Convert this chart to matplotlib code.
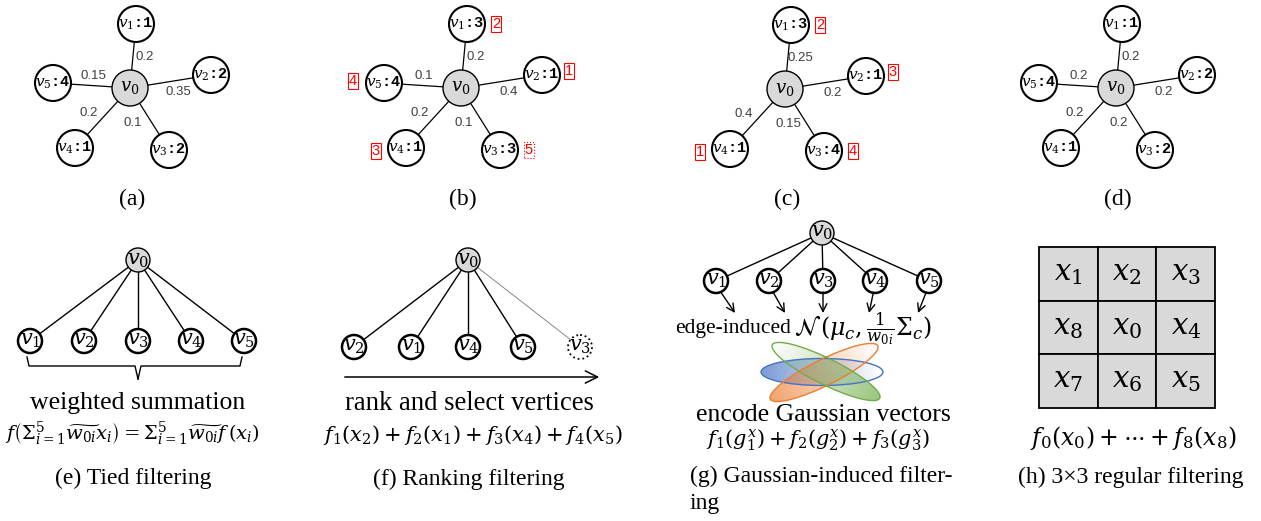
import numpy as np
import matplotlib.pyplot as plt
from matplotlib.patches import Circle, Ellipse, Rectangle

plt.rcParams["font.family"] = ["Liberation Serif", "DejaVu Serif"]
plt.rcParams["mathtext.fontset"] = "stix"

# ---- data -------------------------------------------------------------
# top row: value of each neighbour v1..v5, edge weights, rank boxes
star_vals = [[1, 2, 2, 1, 4], [3, 1, 3, 1, 4], [3, 1, 4, 1, None], [1, 2, 2, 1, 4]]
star_w = [["0.2", "0.35", "0.1", "0.2", "0.15"],
          ["0.2", "0.4", "0.1", "0.2", "0.1"],
          ["0.25", "0.2", "0.15", "0.4", None],
          ["0.2", "0.2", "0.2", "0.2", "0.2"]]
star_rank = [None, [2, 1, 5, 3, 4], [2, 3, 4, 1, None], None]
star_caps = ["(a)", "(b)", "(c)", "(d)"]

# bottom row
tied_kids = [1, 2, 3, 4, 5]
rank_kids = [2, 1, 4, 5, 3]
rank_dropped = 3
gauss_kids = [1, 2, 3, 4, 5]
grid_labels = [[1, 2, 3], [8, 0, 4], [7, 6, 5]]

# ---- layout (pixels) --------------------------------------------------
star_centers = [(130, 88), (461, 88), (785, 89), (1116, 88)]
nb_off = [(6, -64), (81, -13), (39, 62), (-55, 60), (-77, -5)]
w_off = [(15, -31), (48, 4), (3, 35), (-41, 25), (-37, -12)]
rank_off = [(29, 0), (27, -4), (29, 0), (-30, 3), (-31, -2)]
GRAY = "#d9d9d9"
MF = "dejavuserif"  # wider math font, closer to Cambria Math
CAP = 17
BODY = 18.5

fig = plt.figure(figsize=(12.61, 5.21), dpi=100)
ax = fig.add_axes([0, 0, 1, 1])
ax.axis("off")


def node(x, y, r, label, fs, fill="white", lw=1.5, ls="-", **kw):
    ax.add_patch(Circle((x, y), r, fc=fill, ec="black", lw=lw, ls=ls, zorder=3))
    ax.text(x, y, label, fontsize=fs, ha="center", va="center", zorder=4,
            math_fontfamily=MF, **kw)


# top row: star graphs
for k, (cx, cy) in enumerate(star_centers):
    for i, v in enumerate(star_vals[k]):
        if v is None:
            continue
        nx, ny = cx + nb_off[i][0], cy + nb_off[i][1]
        ax.plot([cx, nx], [cy, ny], color="black", lw=0.9, zorder=1)
        node(nx, ny, 18, f"$v_{i + 1}$:{v}", 11, family="Liberation Mono",
             fontweight="bold")
        ax.text(cx + w_off[i][0], cy + w_off[i][1], star_w[k][i], fontsize=9.5,
                color="#404040", family="Liberation Sans", ha="center", va="center")
        if star_rank[k] is not None:
            r = star_rank[k][i]
            ax.text(nx + rank_off[i][0], ny + rank_off[i][1], str(r), color="red",
                    fontsize=10.5, family="Liberation Sans", ha="center",
                    va="center",
                    bbox=dict(boxstyle="square,pad=0.08", fc="white", ec="red",
                              lw=0.8, ls=":" if r == 5 else "-"))
    node(cx, cy, 18, "$v_0$", 13, fill=GRAY, lw=1.0)
    ax.text(cx + 2, 199, star_caps[k], fontsize=CAP, ha="center", va="center")


def tree(rx, ry, kx, ky, labels, dashed=None):
    for x, lab in zip(kx, labels):
        light = lab == dashed
        ax.plot([rx, x], [ry, ky], color="#777777" if light else "black",
                lw=0.6 if light else 1.0, zorder=1)
        node(x, ky, 12, f"$v_{lab}$", 15, lw=1.3 if light else 1.8,
             ls=":" if light else "-")
    node(rx, ry, 12, "$v_0$", 15, fill=GRAY, lw=1.0)


# (e) tied filtering
kx_e = [30, 84, 138, 191, 244]
tree(138, 260, kx_e, 341, tied_kids)
ax.plot([27, 29, 135, 138], [357, 366, 366, 379], color="black", lw=1.0)
ax.plot([242, 240, 141, 138], [357, 366, 366, 379], color="black", lw=1.0)
ax.text(138, 403, "weighted summation", fontsize=BODY, ha="center", va="center")
ax.text(132, 434, r"$f\left(\Sigma_{i=1}^{5}\widetilde{w_{0i}}x_i\right)="
        r"\Sigma_{i=1}^{5}\widetilde{w_{0i}}f\,(x_i)$", fontsize=14,
        ha="center", va="center", math_fontfamily=MF)
ax.text(133, 478, "(e) Tied filtering", fontsize=CAP, ha="center", va="center")

# (f) ranking filtering
kx_f = [354, 411, 468, 523, 580]
tree(468, 260, kx_f, 347, rank_kids, dashed=rank_dropped)
ax.annotate("", xy=(602, 377), xytext=(342, 377),
            arrowprops=dict(arrowstyle="->", lw=1.1, mutation_scale=22))
ax.text(469, 403, "rank and select vertices", fontsize=19.2, ha="center",
        va="center")
ax.text(473, 435, r"$f_1(x_2)+f_2(x_1)+f_3(x_4)+f_4(x_5)$", fontsize=15,
        ha="center", va="center", math_fontfamily=MF)
ax.text(469, 479, "(f) Ranking filtering", fontsize=CAP, ha="center", va="center")

# (g) gaussian-induced filtering
kx_g = [716, 769, 823, 875, 929]
tree(822, 233, kx_g, 281, gauss_kids)
arrow_ends = [(735, 313), (785, 313), (823, 313), (869, 313), (918, 313)]
for x, (ex, ey) in zip(kx_g, arrow_ends):
    sx = x + (ex - x) * 0.25
    ax.annotate("", xy=(ex, ey), xytext=(sx, 292),
                arrowprops=dict(arrowstyle="->", lw=1.0, mutation_scale=14,
                                shrinkA=0, shrinkB=0))
ax.text(791, 329, "edge-induced", fontsize=15.5, ha="right", va="center")
ax.text(794, 329, r"$\mathcal{N}\,(\mu_c,\frac{1}{w_{0i}}\Sigma_c)$",
        fontsize=17, ha="left", va="center", math_fontfamily=MF)


def grad_ellipse(cx, cy, w, h, ang, color, flip=False):
    e = Ellipse((cx, cy), w, h, angle=ang, fc="none", ec=color, lw=1.0, zorder=3)
    ax.add_patch(e)
    x0, x1, y0, y1 = cx - w / 2, cx + w / 2, cy - w / 2, cy + w / 2
    X, Y = np.meshgrid(np.linspace(x0, x1, 200), np.linspace(y0, y1, 200))
    a = np.deg2rad(ang)
    t = ((X - cx) * np.cos(a) + (Y - cy) * np.sin(a)) / (w / 2)
    if flip:
        t = -t
    img = np.zeros(X.shape + (4,))
    img[..., :3] = plt.matplotlib.colors.to_rgb(color)
    img[..., 3] = np.clip(0.7 * (1 - t) / 2, 0, 1)
    im = ax.imshow(img, extent=(x0, x1, y1, y0), origin="upper", zorder=2,
                   interpolation="bilinear", aspect="auto")
    im.set_clip_path(e)


grad_ellipse(822, 372, 122, 27, 0, "#4472c4")
grad_ellipse(824, 372.5, 120, 26, -26.4, "#ed7d31")
grad_ellipse(826, 371.5, 120, 26, 26.4, "#70ad47", flip=True)
ax.text(823, 415, "encode Gaussian vectors", fontsize=BODY, ha="center",
        va="center")
ax.text(818, 440, r"$f_1(g_1^x)+f_2(g_2^x)+f_3(g_3^x)$", fontsize=15,
        ha="center", va="center", math_fontfamily=MF)
ax.text(690, 476, "(g) Gaussian-induced filter-", fontsize=CAP, ha="left",
        va="center")
ax.text(690, 503, "ing", fontsize=CAP, ha="left", va="center")

# (h) 3x3 regular filtering
gx0, gy0, cw, ch = 1039, 247, 58.7, 53.7
for r, row in enumerate(grid_labels):
    for c, lab in enumerate(row):
        x, y = gx0 + c * cw, gy0 + r * ch
        ax.add_patch(Rectangle((x, y), cw, ch, fc=GRAY, ec="black", lw=1.3))
        ax.text(x + cw / 2, y + ch / 2, f"$x_{lab}$", fontsize=21,
                ha="center", va="center", math_fontfamily=MF)
ax.text(1133, 438, r"$f_0(x_0)+\cdots+f_8(x_8)$", fontsize=17, ha="center",
        va="center", math_fontfamily=MF)
ax.text(1131, 477, "(h) 3×3 regular filtering", fontsize=CAP, ha="center",
        va="center")

ax.set_xlim(0, 1261)
ax.set_ylim(521, 0)
fig.savefig("out.png", dpi=100)
